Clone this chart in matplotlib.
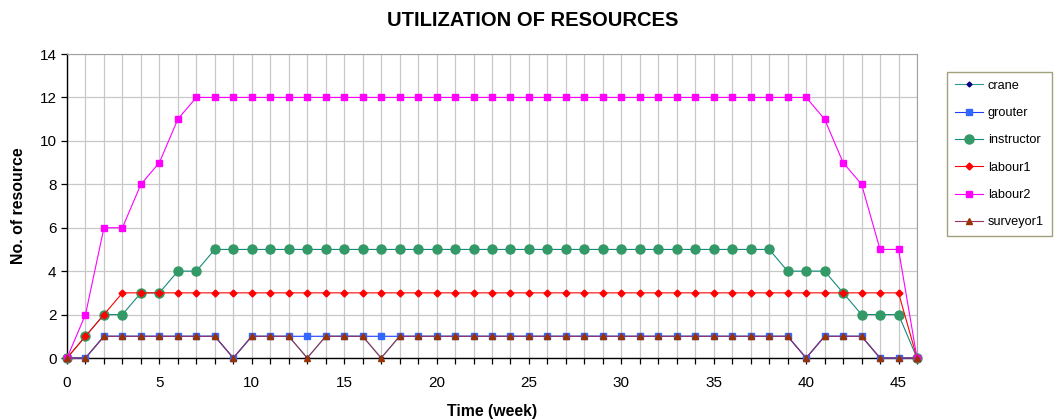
import matplotlib
matplotlib.use("Agg")
import matplotlib.pyplot as plt

plt.rcParams['font.family'] = ['Liberation Sans', 'DejaVu Sans']

weeks = list(range(47))

crane = [0, 0, 1, 1, 1, 1, 1, 1, 1, 0,
         1, 1, 1, 0, 1, 1, 1, 0, 1, 1,
         1, 1, 1, 1, 1, 1, 1, 1, 1, 1,
         1, 1, 1, 1, 1, 1, 1, 1, 1, 1,
         0, 1, 1, 1, 0, 0, 0]
grouter = [0, 0, 1, 1, 1, 1, 1, 1, 1, 0,
           1, 1, 1, 1, 1, 1, 1, 1, 1, 1,
           1, 1, 1, 1, 1, 1, 1, 1, 1, 1,
           1, 1, 1, 1, 1, 1, 1, 1, 1, 1,
           0, 1, 1, 1, 0, 0, 0]
instructor = [0, 1, 2, 2, 3, 3, 4, 4, 5, 5,
              5, 5, 5, 5, 5, 5, 5, 5, 5, 5,
              5, 5, 5, 5, 5, 5, 5, 5, 5, 5,
              5, 5, 5, 5, 5, 5, 5, 5, 5, 4,
              4, 4, 3, 2, 2, 2, 0]
labour1 = [0, 1, 2, 3, 3, 3, 3, 3, 3, 3,
           3, 3, 3, 3, 3, 3, 3, 3, 3, 3,
           3, 3, 3, 3, 3, 3, 3, 3, 3, 3,
           3, 3, 3, 3, 3, 3, 3, 3, 3, 3,
           3, 3, 3, 3, 3, 3, 0]
labour2 = [0, 2, 6, 6, 8, 9, 11, 12, 12, 12,
           12, 12, 12, 12, 12, 12, 12, 12, 12, 12,
           12, 12, 12, 12, 12, 12, 12, 12, 12, 12,
           12, 12, 12, 12, 12, 12, 12, 12, 12, 12,
           12, 11, 9, 8, 5, 5, 0]
surveyor1 = [0, 0, 1, 1, 1, 1, 1, 1, 1, 0,
             1, 1, 1, 0, 1, 1, 1, 0, 1, 1,
             1, 1, 1, 1, 1, 1, 1, 1, 1, 1,
             1, 1, 1, 1, 1, 1, 1, 1, 1, 1,
             0, 1, 1, 1, 0, 0, 0]

series = [
    ("crane", crane, dict(color="#2e9c8a", marker="D", ms=2.5, mfc="#000080", mec="#000080")),
    ("grouter", grouter, dict(color="#1f3cff", marker="s", ms=4.8, mfc="#3366ff", mec="#3366ff")),
    ("instructor", instructor, dict(color="#138a7a", marker="o", ms=6.5, mfc="#339966", mec="#339966")),
    ("labour1", labour1, dict(color="#ff0000", marker="D", ms=3.5, mfc="#ff0000", mec="#ff0000")),
    ("labour2", labour2, dict(color="#ff00ff", marker="s", ms=4.8, mfc="#ff00ff", mec="#ff00ff")),
    ("surveyor1", surveyor1, dict(color="#993366", marker="^", ms=5, mfc="#993300", mec="#993300")),
]

fig = plt.figure(figsize=(10.54, 4.19), dpi=100)
ax = fig.add_axes([67 / 1054, 61 / 419, 850 / 1054, 304 / 419])

for name, vals, style in series:
    ax.plot(weeks, vals, lw=0.8, label=name, clip_on=False, zorder=3, **style)

ax.set_xlim(0, 46)
ax.set_ylim(0, 14)
ax.set_xticks(range(0, 47), minor=True)
ax.set_xticks(range(0, 46, 5))
ax.set_yticks(range(0, 15, 2))
ax.grid(True, which="both", axis="x", color="#c8c8c8", lw=0.9, zorder=0)
ax.grid(True, which="major", axis="y", color="#c8c8c8", lw=0.9, zorder=0)

ax.tick_params(axis="both", which="both", direction="out", length=4, width=0.9,
               labelsize=11, color="black")
ax.tick_params(axis="x", which="major", pad=9)

for side in ("top", "right"):
    ax.spines[side].set_color("#a0a0a0")
for side in ("left", "bottom"):
    ax.spines[side].set_color("black")
    ax.spines[side].set_linewidth(1.0)

fig.suptitle("UTILIZATION OF RESOURCES", x=533 / 1054, y=1 - 20 / 419,
             va="center", fontsize=14.5, fontweight="bold")
ax.set_xlabel("Time (week)", fontsize=11.4, fontweight="bold", labelpad=10)
ax.set_ylabel("No. of resource", fontsize=11.4, fontweight="bold", labelpad=10)

leg = fig.legend(loc="upper left", bbox_to_anchor=(947 / 1054, 1 - 72 / 419),
                 borderaxespad=0, fontsize=9.2, frameon=True, fancybox=False,
                 edgecolor="#8a8a5c", handlelength=2.2, labelspacing=1.2,
                 borderpad=0.6, handletextpad=0.4)
leg.get_frame().set_linewidth(1.0)

fig.savefig("out.png", dpi=100)
